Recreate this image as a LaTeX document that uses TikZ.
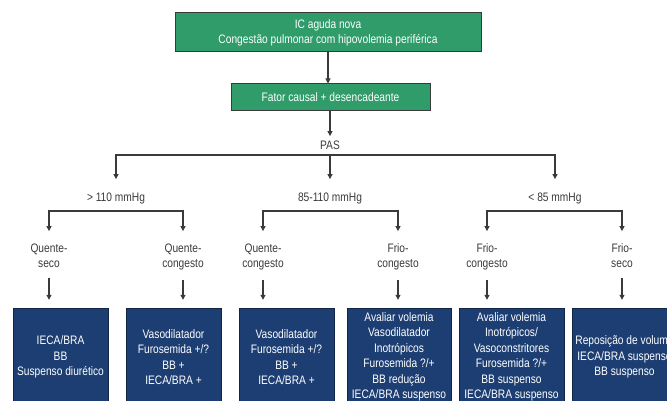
\documentclass[tikz,border=0pt]{standalone}
\usepackage{fontspec}
\setmainfont[FakeStretch=0.83]{Liberation Sans}
\usetikzlibrary{arrows.meta}
\definecolor{verde}{HTML}{2F9C6A}
\definecolor{azul}{HTML}{1C3E72}
\definecolor{cinza}{HTML}{3A3A3A}
\begin{document}
\begin{tikzpicture}[x=1pt, y=-1pt,
    caixaverde/.style={draw=cinza, line width=1pt, fill=verde, text=white, align=center, inner sep=0pt, font=\fontsize{12.3}{15}\selectfont},
    caixaazul/.style={draw=azul!60!black, fill=azul, text=white, align=center, minimum height=98pt, inner sep=0pt, font=\fontsize{12.3}{15.5}\selectfont},
    rotulo/.style={text=cinza, align=center, inner sep=0pt, anchor=north, font=\fontsize{12.3}{15}\selectfont},
    seta/.style={draw=cinza, line width=1.1pt, -{Triangle[length=5pt,width=5pt]}},
    seta2/.style={seta, {Triangle[length=5pt,width=5pt]}-{Triangle[length=5pt,width=5pt]}}]
    \useasboundingbox (0,0) rectangle (667,401);
    \clip (0,0) rectangle (667,401);

    % Topo
    \node[caixaverde, minimum width=306pt, minimum height=39pt] (topo) at (328, 32.5) {IC aguda nova\\Congestão pulmonar com hipovolemia periférica};
    \node[caixaverde, minimum width=199pt, minimum height=27pt] (fator) at (330.5, 97.5) {Fator causal + desencadeante};
    \node[rotulo] (pas) at (330, 140.6) {PAS};
    \draw[seta] (topo.south) -- (topo.south |- fator.north);
    \draw[seta, shorten >=4.5pt] (fator.south -| pas.north) -- (pas.north);

    % Faixas de PAS
    \node[rotulo] (g1) at (116, 192.6) {> 110 mmHg};
    \node[rotulo] (g2) at (330, 192.6) {85-110 mmHg};
    \node[rotulo] (g3) at (555, 192.6) {< 85 mmHg};
    \coordinate (ramo) at (330, 155);
    \draw[seta2, shorten <=13.5pt, shorten >=13.5pt] (g1.north) |- (ramo) -| (g3.north);
    \draw[seta, shorten >=13.5pt] (ramo) -- (g2.north);

    % Perfis
    \node[rotulo] (q1) at (49, 243.6) {Quente-\\seco};
    \node[rotulo] (q2) at (183, 243.6) {Quente-\\congesto};
    \node[rotulo] (q3) at (263, 243.6) {Quente-\\congesto};
    \node[rotulo] (q4) at (398, 243.6) {Frio-\\congesto};
    \node[rotulo] (q5) at (487, 243.6) {Frio-\\congesto};
    \node[rotulo] (q6) at (622, 243.6) {Frio-\\seco};
    \coordinate (r1) at (116, 211);
    \coordinate (r2) at (330, 211);
    \coordinate (r3) at (555, 211);
    \draw[seta2, shorten <=12.5pt, shorten >=12.5pt] (q1.north) |- (r1) -| (q2.north);
    \draw[seta2, shorten <=12.5pt, shorten >=12.5pt] (q3.north) |- (r2) -| (q4.north);
    \draw[seta2, shorten <=12.5pt, shorten >=12.5pt] (q5.north) |- (r3) -| (q6.north);

    % Condutas
    \node[caixaazul, minimum width=95pt] (b1) at (60.5, 357) {IECA/BRA\\BB\\Suspenso diurético};
    \node[caixaazul, minimum width=95pt] (b2) at (173.5, 357) {Vasodilatador\\Furosemida +/?\\BB +\\IECA/BRA +};
    \node[caixaazul, minimum width=95pt] (b3) at (286.5, 357) {Vasodilatador\\Furosemida +/?\\BB +\\IECA/BRA +};
    \node[caixaazul, minimum width=104pt] (b4) at (399, 357) {Avaliar volemia\\Vasodilatador\\Inotrópicos\\Furosemida ?/+\\BB redução\\IECA/BRA suspenso};
    \node[caixaazul, minimum width=105pt] (b5) at (511.5, 357) {Avaliar volemia\\Inotrópicos/\\Vasoconstritores\\Furosemida ?/+\\BB suspenso\\IECA/BRA suspenso};
    \node[caixaazul, minimum width=105pt] (b6) at (624.5, 357) {Reposição de volume\\IECA/BRA suspenso\\BB suspenso};
    \foreach \i in {1,...,6}
        \draw[seta, shorten <=10pt, shorten >=8pt] (q\i.south) -- (q\i.south |- b\i.north);
\end{tikzpicture}
\end{document}
